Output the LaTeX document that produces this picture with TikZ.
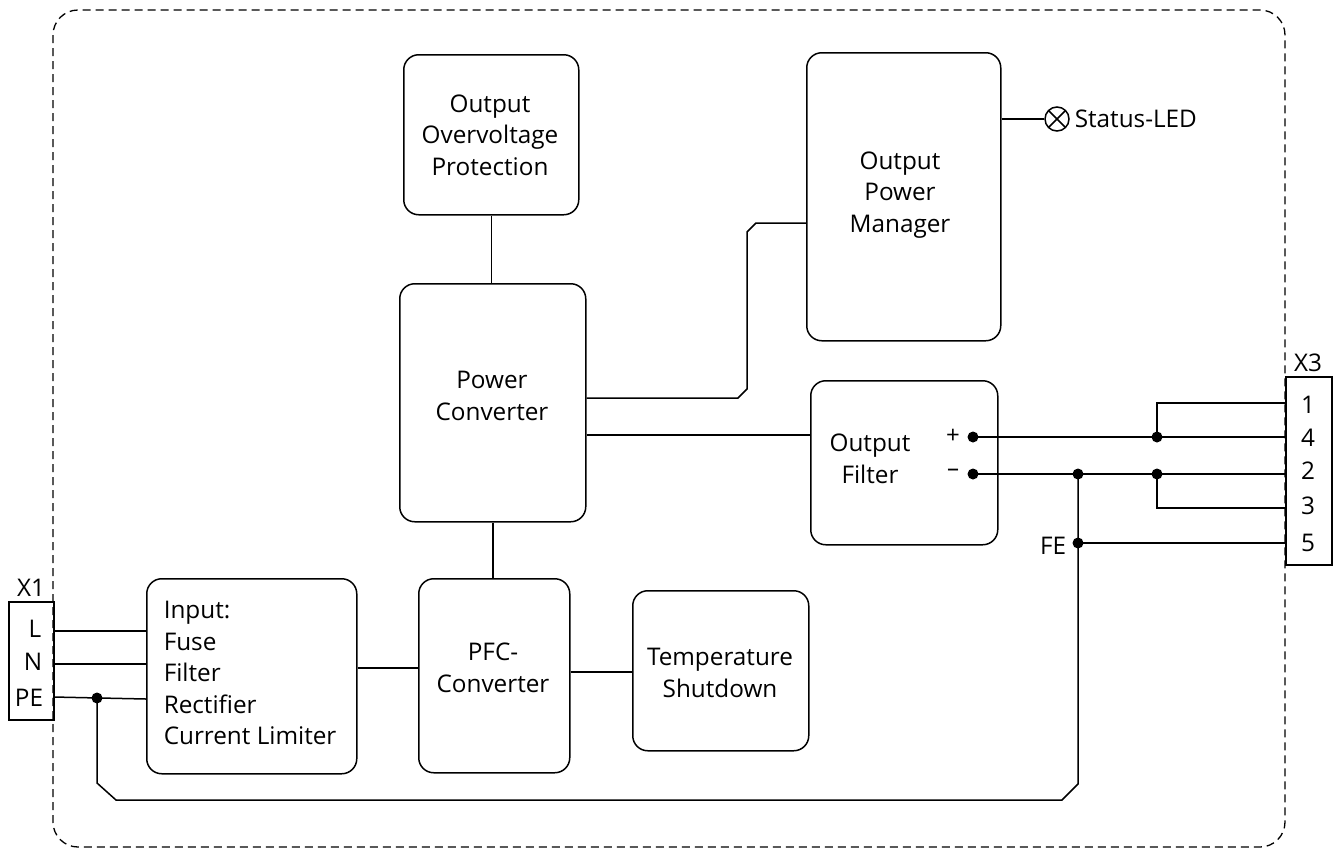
\documentclass[tikz,border=0pt]{standalone}
\usepackage{fontspec}
\setmainfont{Open Sans}
\begin{document}
\begin{tikzpicture}[x=1pt,y=-1pt,line width=1.5pt,
  box/.style={draw,rounded corners=15pt,inner sep=0pt,anchor=north west,align=center},
  txt/.style={inner sep=0pt,align=center},
  sign/.style={inner sep=0pt,font=\fontsize{24}{24}\selectfont},
  dot/.style={circle,fill,inner sep=0pt,minimum size=11pt},
  pin/.style={draw,inner sep=0pt,anchor=north west}]
\useasboundingbox (0,0) rectangle (1338,849);
\fontsize{24.3}{31.5}\selectfont
% outer dashed frame
\draw[dash pattern=on 8pt off 5pt,line width=1.3pt,rounded corners=25pt] (53,10) rectangle (1285,847);
% boxes
\node[box,minimum width=175pt,minimum height=160pt] (ovp) at (403,54) {};
\node[txt] (ovpt) at (490,135) {Output\\Overvoltage\\Protection};
\node[box,minimum width=186pt,minimum height=238pt] (pc) at (399,283) {};
\node[txt] (pct) at (492,396) {Power\\Converter};
\node[box,minimum width=194pt,minimum height=288pt] (opm) at (806,52) {};
\node[txt] (opmt) at (900,195) {Output\\Power\\Manager};
\node[box,minimum width=187pt,minimum height=164pt] (of) at (810,380) {};
\node[txt] (oft) at (870,459) {Output\\Filter};
\node[sign] (plus) at (953,436) {+};
\node[sign] (minus) at (953,473) {\textendash};
\node[box,minimum width=210pt,minimum height=195pt] (inp) at (146,578) {};
\node[txt,align=left,anchor=west] (inpt) at (163,673) {Input:\\Fuse\\Filter\\Rectifier\\Current Limiter};
\node[box,minimum width=151pt,minimum height=194pt] (pfc) at (418,578) {};
\node[txt] (pfct) at (493,668) {PFC-\\Converter};
\node[box,minimum width=176pt,minimum height=160pt] (temp) at (632,590) {};
\node[txt] (tempt) at (720,673) {Temperature\\Shutdown};
% connectors X1
\node[pin,minimum width=45pt,minimum height=118pt] (x1) at (8,601) {};
\node[txt,anchor=south] (x1l) at (31,597) {X1};
\node[txt] (pl) at (35,629) {L};
\node[txt] (pn) at (33,662) {N};
\node[txt] (ppe) at (29,698) {PE};
\node[pin,minimum width=46pt,minimum height=188pt] (x3) at (1285,376) {};
\node[txt,anchor=south] (x3l) at (1308,372) {X3};
\node[txt] (p1) at (1308,405) {1};
\node[txt] (p4) at (1308,438) {4};
\node[txt] (p2) at (1308,471) {2};
\node[txt] (p3) at (1308,506) {3};
\node[txt] (p5) at (1308,543) {5};
% coordinates
\coordinate (x1L) at (53,631);
\coordinate (x1N) at (53,664);
\coordinate (x1PE) at (53,697);
\coordinate (x3a) at (1285,403);
\coordinate (x3b) at (1285,437);
\coordinate (x3c) at (1285,474);
\coordinate (x3d) at (1285,508);
\coordinate (x3e) at (1285,543);
% input wires
\draw (x1L) -- (146,631);
\draw (x1N) -- (146,664);
\draw (x1PE) -- (146,699);
\node[dot] (dpe) at (97,698) {};
% FE return path
\node[dot] (dfe) at (1078,543) {};
\node[dot] (dneg) at (1078,474) {};
\draw (dpe.center) -- (97,783) -- (116,800) -- (1062,800) -- (1078,784) -- (dneg.center);
\node[txt,anchor=east] (fe) at (1067,546) {FE};
\draw (dfe.center) -- (x3e);
% internal wiring
\draw (ovp.south) -- (ovp.south |- pc.north);
\draw (pc.south) -- (pc.south |- pfc.north);
\draw (inp.east |- 0,668) -- (pfc.west |- 0,668);
\draw (pfc.east |- 0,672) -- (temp.west |- 0,672);
\draw (pc.east |- 0,398) -- (738,398) -- (747,389) -- (747,232) -- (756,223) -- (opm.west |- 0,223);
\draw (pc.east |- 0,435) -- (of.west |- 0,435);
% status LED
\node[circle,draw,minimum size=24pt,inner sep=0pt,
  path picture={\draw (path picture bounding box.north west) -- (path picture bounding box.south east)
  (path picture bounding box.north east) -- (path picture bounding box.south west);}] (led) at (1057,119) {};
\draw (opm.east |- 0,119) -- (led.west);
\node[txt,anchor=west] (ledt) at (1074,119) {Status-LED};
% outputs
\node[dot] (dplus) at (973,437) {};
\node[dot] (dminus) at (973,474) {};
\node[dot] (j1) at (1157,437) {};
\node[dot] (j2) at (1157,474) {};
\draw (dplus.center) -- (x3b);
\draw (dminus.center) -- (x3c);
\draw (j1.center) -- (1157,403) -- (x3a);
\draw (j2.center) -- (1157,508) -- (x3d);
\end{tikzpicture}
\end{document}
